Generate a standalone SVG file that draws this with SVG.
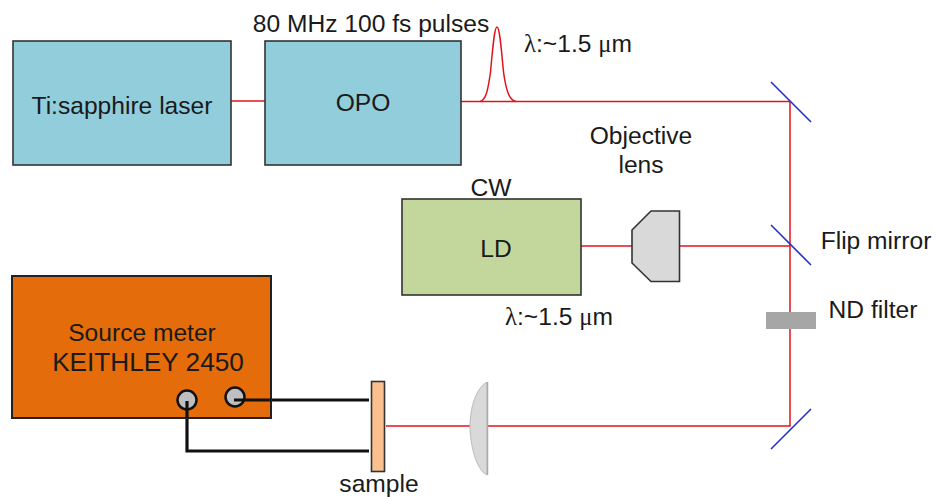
<svg xmlns="http://www.w3.org/2000/svg" width="936" height="497" viewBox="0 0 936 497">
<style>
text{font-family:"Liberation Sans",Arial,sans-serif;font-size:24.6px;fill:#1a1a1a;text-anchor:middle}
.sym{font-family:"Liberation Serif",serif}
.beam{fill:none;stroke:#e0141e;stroke-width:1.5}
.mirror{stroke:#2030c8;stroke-width:1.6;fill:none}
.wire{fill:none;stroke:#111;stroke-width:3.2}
.box{stroke:#333;stroke-width:1.6}
.lens{fill:#d9d9d9}
</style>
<rect width="936" height="497" fill="#fff"/>
<g id="connectors">
<path class="beam" d="M231 101H265"/>
<path class="beam" d="M461 101.500H790V426H386"/>
<path class="beam" d="M581 246H632"/>
<path class="beam" d="M680 246H790"/>
<path class="beam" d="M480 101.500C486 100 488 90 490.500 72C493 45 494.500 27 497 27C499.500 27 501 45 503.500 72C506 90 509 100 516 101.500"/>
<path class="wire" d="M234 400H369"/>
<path class="wire" d="M187 401V451H369"/>
</g>
<g id="ti-sapphire-laser"><rect class="box" x="13" y="41" width="218" height="124" fill="#92cddc"/><text x="122" y="114">Ti:sapphire laser</text></g>
<g id="opo"><rect class="box" x="265" y="41" width="196" height="124" fill="#92cddc"/><text x="363" y="111">OPO</text></g>
<g id="pulse-label"><text x="371" y="32">80 MHz 100 fs pulses</text></g>
<g id="wavelength-top"><text x="578" y="52"><tspan class="sym">λ</tspan>:~1.5 <tspan class="sym">μ</tspan>m</text></g>
<g id="objective-label"><text x="641" y="144">Objective</text><text x="641" y="173">lens</text></g>
<g id="ld"><rect class="box" x="402" y="199" width="179" height="96" fill="#c3d69b"/><text x="491" y="196">CW</text><text x="496" y="257">LD</text></g>
<g id="wavelength-bottom"><text x="559" y="325"><tspan class="sym">λ</tspan>:~1.5 <tspan class="sym">μ</tspan>m</text></g>
<g id="objective-lens"><path class="lens" d="M632 230L651 211H679.500V281.500H651L632 263Z" stroke="#333" stroke-width="1.600"/></g>
<g id="mirror-top"><path class="mirror" d="M771 82L811 122"/></g>
<g id="flip-mirror"><path class="mirror" d="M771 225L811 265"/><text x="876" y="249">Flip mirror</text></g>
<g id="nd-filter"><rect x="766" y="312" width="50" height="17" fill="#a6a6a6"/><text x="873" y="318">ND filter</text></g>
<g id="mirror-bottom"><path class="mirror" d="M771 449L811 409"/></g>
<g id="focus-lens"><path d="M487 382C476 388 470 408 470 426C470 444 476 470 487 475Z" fill="#d9d9d9" stroke="#bbb" stroke-width="1"/><path d="M487.500 382V475" stroke="#aaa" stroke-width="1.500"/></g>
<g id="source-meter"><rect x="12" y="276" width="259" height="142" fill="#e46c0a" stroke="#222" stroke-width="2"/><text x="142" y="341">Source meter</text><text x="148" y="371" style="font-size:26.200px">KEITHLEY 2450</text>
<circle cx="187" cy="400" r="9.500" fill="#bfbfbf" stroke="#111" stroke-width="2.500"/><circle cx="235" cy="397" r="9.500" fill="#bfbfbf" stroke="#111" stroke-width="2.500"/>
<path class="wire" d="M234 400H271"/><path class="wire" d="M187 401V418"/></g>
<g id="sample"><rect class="box" x="371.500" y="381.500" width="13" height="90" fill="#fac090"/><text x="379" y="492">sample</text></g>
</svg>
